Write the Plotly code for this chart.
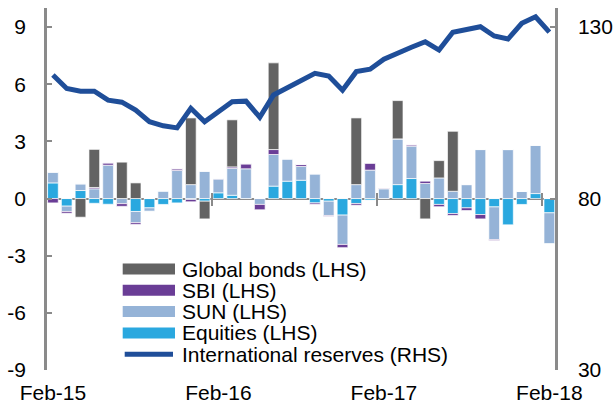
import plotly.graph_objects as go

# ---------------- data ----------------
months = ["Feb-15", "Mar-15", "Apr-15", "May-15", "Jun-15", "Jul-15", "Aug-15", "Sep-15",
          "Oct-15", "Nov-15", "Dec-15", "Jan-16", "Feb-16", "Mar-16", "Apr-16", "May-16",
          "Jun-16", "Jul-16", "Aug-16", "Sep-16", "Oct-16", "Nov-16", "Dec-16", "Jan-17",
          "Feb-17", "Mar-17", "Apr-17", "May-17", "Jun-17", "Jul-17", "Aug-17", "Sep-17",
          "Oct-17", "Nov-17", "Dec-17", "Jan-18", "Feb-18"]

equities = [0.82, -0.40, 0.42, -0.25, -0.30, 0.00, -0.68, -0.49, -0.31, -0.23,
            -0.05, -0.14, 0.30, 0.17, 0.00, 0.00, 0.65, 0.91, 0.96, -0.23,
            -0.14, -0.87, -0.26, -0.08, 0.00, 0.73, 1.05, 0.00, -0.31, -0.79,
            -0.49, -0.84, -0.44, -1.38, -0.31, 0.26, -0.75]

sun = [0.56, -0.28, 0.35, 0.51, 1.75, -0.27, -0.59, -0.17, 0.40, 1.47,
       0.73, 1.43, 0.72, 1.42, 1.56, -0.31, 1.66, 1.17, 0.73, 1.29,
       -0.75, -1.54, 0.73, 1.49, 0.51, 2.40, 1.70, 0.79, 1.08, 0.38,
       0.73, 2.57, -1.71, 2.57, 0.38, 2.54, -1.61]

sbi = [-0.23, -0.09, 0.00, 0.07, 0.12, -0.14, -0.09, 0.00, 0.00, 0.09,
       -0.12, 0.00, 0.03, 0.07, 0.26, -0.28, 0.26, 0.00, 0.10, -0.07,
       -0.04, -0.17, -0.09, 0.37, 0.04, 0.00, 0.07, 0.12, -0.12, -0.10,
       -0.14, -0.23, -0.05, 0.00, 0.00, 0.00, 0.00]

global_bonds = [0.00, 0.00, -0.98, 2.00, 0.00, 1.91, 0.82, 0.00, 0.00, 0.00,
                3.50, -0.93, 0.00, 2.47, 0.00, 0.00, 4.55, 0.00, 0.00, 0.00,
                0.00, 0.00, 3.50, 0.00, 0.00, 2.01, 0.00, -1.07, 0.91, 3.15,
                0.00, 0.00, 0.00, 0.00, 0.00, 0.00, 0.00]

reserves = [116.0, 112.1, 111.3, 111.3, 108.7, 108.1, 105.8, 102.4, 101.2, 100.6,
            106.3, 102.4, 105.3, 108.2, 108.4, 103.7, 110.2, 112.4, 114.6, 116.5,
            115.7, 111.6, 117.0, 117.7, 120.6, 122.5, 124.1, 125.7, 123.3, 128.5,
            129.3, 130.1, 127.4, 126.5, 131.1, 133.0, 128.5]

x_ticks = ["Feb-15", "Feb-16", "Feb-17", "Feb-18"]
lhs_ticks = [-9, -6, -3, 0, 3, 6, 9]
rhs_ticks = [30, 80, 130]
year_breaks = [11.5, 23.5, 35.5]

# ---------------- styling ----------------
W, H = 613, 406
ML, MR, MT, MB = 47, 58, 8, 36
FONT = "Liberation Sans, Arial, sans-serif"
FS = 21
GREY_AX = "#8a8a8a"

C_GB = "#636363"
C_SBI = "#6a3d96"
C_SUN = "#95b3d7"
C_EQ = "#2aa8df"
C_RES = "#1f4e99"

y_lo, y_hi = -9, 10
r_lo = 30
r_hi = r_lo + (y_hi - y_lo) * (130 - 30) / 18.0
x_range = [-0.43, 36.41]
zero_frac = (0 - y_lo) / (y_hi - y_lo)

fig = go.Figure()
bar_line = dict(color="rgba(255,255,255,0.85)", width=0.8)
for name, vals, col in [("Equities (LHS)", equities, C_EQ),
                        ("SUN (LHS)", sun, C_SUN),
                        ("SBI (LHS)", sbi, C_SBI),
                        ("Global bonds (LHS)", global_bonds, C_GB)]:
    fig.add_trace(go.Bar(x=months, y=vals, name=name, marker=dict(color=col, line=bar_line),
                         showlegend=False))

fig.add_trace(go.Scatter(x=months, y=reserves, name="International reserves (RHS)",
                         mode="lines", line=dict(color=C_RES, width=5), yaxis="y2",
                         showlegend=False))

# empty helper traces so the overlay tick axes (year separators on the zero line) get drawn
for xa in ("x2", "x3"):
    fig.add_trace(go.Scatter(x=[], y=[], xaxis=xa, yaxis="y", showlegend=False,
                             hoverinfo="skip", mode="markers"))

axis_common = dict(showgrid=False, linecolor=GREY_AX, tickcolor=GREY_AX, automargin=False,
                   tickfont=dict(family=FONT, size=FS, color="black"))

tick_axis = dict(overlaying="x", anchor="free", position=zero_frac, range=x_range,
                 tickvals=year_breaks, ticklen=6, tickwidth=2, automargin=False,
                 tickcolor=GREY_AX, showticklabels=False, showline=False, showgrid=False,
                 zeroline=False, fixedrange=True)

fig.update_layout(
    width=W, height=H,
    margin=dict(l=ML, r=MR, t=MT, b=MB, pad=0, autoexpand=False),
    paper_bgcolor="white", plot_bgcolor="white",
    barmode="relative", bargap=0.225,
    showlegend=False,
    xaxis=dict(type="category", range=x_range, tickvals=x_ticks, ticktext=x_ticks,
               ticks="", showline=False, showgrid=False, zeroline=False, automargin=False,
               tickfont=dict(family=FONT, size=FS, color="black"), ticklabelstandoff=8),
    xaxis2=dict(ticks="outside", **tick_axis),
    xaxis3=dict(ticks="inside", **tick_axis),
    yaxis=dict(range=[y_lo, y_hi], tickvals=lhs_ticks, ticktext=[str(v) for v in lhs_ticks],
               ticks="inside", ticklen=5, tickwidth=1.5,
               showline=True, linewidth=2.5, zeroline=True, zerolinecolor=GREY_AX,
               zerolinewidth=2.2, ticklabelstandoff=14, **axis_common),
    yaxis2=dict(range=[r_lo, r_hi], tickvals=rhs_ticks, ticktext=[str(v) for v in rhs_ticks],
                overlaying="y", side="right",
                ticks="inside", ticklen=5, tickwidth=1.5, showline=True, linewidth=2.5,
                zeroline=False, ticklabelstandoff=16, **axis_common),
)

# ---------------- legend (drawn manually to match swatch sizes) ----------------
PW = W - ML - MR
PH = H - MT - MB
def px_x(px):
    return (px - ML) / PW
def px_y(py):
    return (H - MB - py) / PH

legend_items = [("Global bonds (LHS)", C_GB, "rect"),
                ("SBI (LHS)", C_SBI, "rect"),
                ("SUN (LHS)", C_SUN, "rect"),
                ("Equities (LHS)", C_EQ, "rect"),
                ("International reserves (RHS)", C_RES, "line")]
row_y = [269, 290.3, 311.6, 332.9, 354.2]
sw_x0, sw_x1, txt_x = 122.7, 175.0, 179.5
for (label, col, kind), cy in zip(legend_items, row_y):
    if kind == "rect":
        fig.add_shape(type="rect", xref="paper", yref="paper",
                      x0=px_x(sw_x0), x1=px_x(sw_x1), y0=px_y(cy + 5.5), y1=px_y(cy - 5.5),
                      fillcolor=col, line=dict(width=0))
    else:
        fig.add_shape(type="line", xref="paper", yref="paper",
                      x0=px_x(sw_x0 + 2), x1=px_x(sw_x1 - 2), y0=px_y(cy), y1=px_y(cy),
                      line=dict(color=col, width=5))
    fig.add_annotation(x=px_x(txt_x), y=px_y(cy), xref="paper", yref="paper",
                       text=label, showarrow=False, xanchor="left", yanchor="middle",
                       font=dict(family=FONT, size=FS, color="black"))

fig.write_html("out.html", config={"displayModeBar": False},
               post_script="document.body.style.margin='0';document.body.style.overflow='hidden';")
